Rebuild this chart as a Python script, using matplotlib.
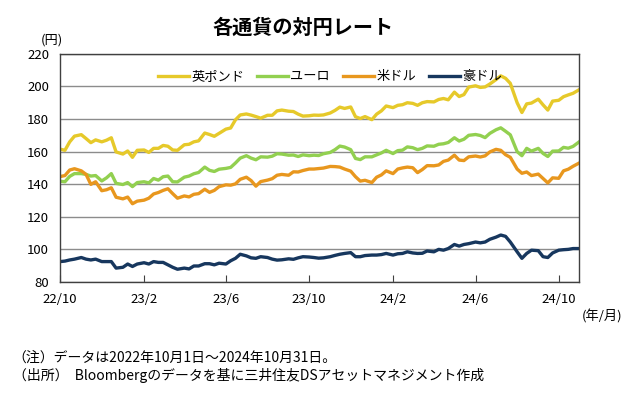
import pandas as pd
import matplotlib.pyplot as plt

plt.rcParams['font.family'] = ['Noto Sans CJK JP', 'DejaVu Sans']

# sample dates: 1st, 8th, 15th, 22nd of each month + last day
months = pd.date_range('2022-10-01', '2024-10-01', freq='MS')
dates = [m + pd.Timedelta(days=d) for m in months for d in (0, 7, 14, 21)]
dates.append(pd.Timestamp('2024-10-31'))

gbp = [161.5, 160.8, 166.0, 169.5,   # 22/10
       170.4, 168.0, 165.5, 167.2,
       166.0, 167.0, 168.5, 159.8,
       158.5, 160.4, 156.5, 160.8,   # 23/1
       161.0, 159.5, 162.0, 162.0,
       163.8, 163.3, 161.0, 160.8,
       164.2, 164.5, 166.0, 166.6,
       171.4, 170.5, 169.4, 171.2,
       173.8, 174.5, 179.5, 182.5,
       183.1, 182.4, 181.5, 180.5,
       182.3, 182.3, 185.0, 185.5,
       184.8, 184.6, 183.0, 181.8,
       182.0, 182.4, 182.3, 182.5,   # 23/10
       183.7, 185.3, 187.3, 186.5,
       187.4, 181.4, 180.3, 181.5,
       179.6, 183.0, 185.0, 188.0,   # 24/1
       187.0, 188.4, 188.8, 190.0,
       189.6, 188.4, 190.0, 190.7,
       190.5, 192.0, 192.6, 191.8,
       196.5, 193.8, 195.0, 199.6,
       200.4, 199.4, 199.7, 201.5,
       204.2, 206.5, 205.0, 201.9,
       190.0, 184.0, 189.3, 189.8,
       192.2, 188.7, 185.5, 191.0,
       191.5, 193.7, 194.8, 195.8,   # 24/10
       198.0]

eur = [141.8, 141.5, 144.8, 146.5,
       146.5, 146.0, 145.0, 145.3,
       142.0, 143.9, 146.5, 140.5,
       139.8, 141.0, 138.5, 141.0,
       141.5, 140.8, 143.5, 142.5,
       144.6, 145.0, 141.5, 141.4,
       144.3, 145.0, 146.4, 147.2,
       150.5, 148.5, 147.8, 149.2,
       149.7, 150.3, 153.0, 156.0,
       157.5, 156.0, 155.0, 156.8,
       156.6, 157.2, 158.7, 158.5,
       157.8, 157.9, 157.0, 158.0,
       157.5, 157.8, 157.6, 158.7,
       159.5, 161.2, 163.4, 162.8,
       161.2, 155.8, 155.1, 156.8,
       156.8, 158.0, 159.2, 160.8,
       158.8, 160.6, 160.9, 162.9,
       162.4, 161.2, 162.0, 163.5,
       163.3, 164.5, 164.8, 165.6,
       168.5, 166.5, 167.6, 170.0,
       170.5, 169.9, 168.6, 171.2,
       173.4, 174.6, 172.5, 170.3,
       160.0, 157.5, 162.0, 160.3,
       162.0, 158.9, 157.0, 160.3,
       160.4, 162.6, 162.1, 163.2,
       166.0]

usd = [144.7, 145.3, 148.7, 149.5,
       148.2, 146.0, 139.9, 141.5,
       136.0, 136.6, 137.8, 132.0,
       131.0, 132.1, 128.0, 129.6,
       130.2, 131.4, 134.0, 134.9,
       136.2, 137.2, 134.2, 131.4,
       132.8, 132.2, 133.8, 134.2,
       136.9, 135.0, 136.2, 138.5,
       139.6, 139.4, 140.2, 143.0,
       144.3, 142.2, 138.8, 141.6,
       142.5, 143.4, 145.5, 146.0,
       145.5, 147.6, 147.5, 148.4,
       149.3, 149.3, 149.6, 149.9,
       150.9, 150.8, 150.5, 149.3,
       148.0, 144.6, 141.9, 142.4,
       141.0, 144.3, 145.7, 148.2,
       146.5, 149.3, 150.0, 150.5,
       150.1, 147.1, 149.0, 151.4,
       151.3, 151.8, 154.0, 154.8,
       157.8, 154.8, 154.5, 156.8,
       157.3, 156.7, 157.4, 159.8,
       161.4, 160.8, 158.1, 156.5,
       149.3, 146.7, 147.5, 145.3,
       146.2, 143.5, 140.8, 143.9,
       143.6, 148.2, 149.2, 151.0,
       153.0]

aud = [92.5, 92.8, 93.5, 94.0,
       95.0, 94.0, 93.5, 94.0,
       92.5, 92.5, 92.5, 88.5,
       89.0, 91.0, 89.5, 91.0,
       91.8, 91.0, 92.5, 92.0,
       92.0, 90.5, 89.0, 87.8,
       88.5, 88.0, 89.8, 89.8,
       91.2, 91.2, 90.5, 91.5,
       91.0, 93.0, 94.5, 97.0,
       96.0, 94.8, 94.5, 95.5,
       95.0, 94.0, 93.4, 93.6,
       94.2, 93.9, 94.8, 95.5,
       95.3, 95.0, 94.6, 94.8,
       95.5, 96.3, 97.0, 97.5,
       98.0, 95.5, 95.5, 96.2,
       96.5, 96.5, 96.8, 97.5,
       96.5, 97.3, 97.5, 98.5,
       97.8, 97.5, 97.6, 99.0,
       98.5, 100.0, 99.5, 100.5,
       103.0, 102.0, 103.0, 103.5,
       104.5, 104.0, 104.5, 106.2,
       107.5, 108.8, 108.0, 104.5,
       98.5, 94.5, 97.5, 99.5,
       99.2, 95.5, 95.0, 97.8,
       99.5, 99.8, 100.0, 100.5,
       100.5]

series = [('英ポンド', gbp, '#E6C92A'),
          ('ユーロ', eur, '#92D050'),
          ('米ドル', usd, '#E8971E'),
          ('豪ドル', aud, '#17375E')]

tick_dates = pd.date_range('2022-10-01', '2024-10-01', freq='4MS')
tick_labels = ['22/10', '23/2', '23/6', '23/10', '24/2', '24/6', '24/10']

fig = plt.figure(figsize=(6.4, 3.96), dpi=100)
ax = fig.add_axes([0.094, 0.288, 0.811, 0.576])

for name, vals, col in series:
    ax.plot(dates, vals, color=col, lw=2.4, label=name)

ax.set_xlim(pd.Timestamp('2022-10-01'), pd.Timestamp('2024-10-31'))
ax.set_ylim(80, 220)
ax.set_yticks(range(80, 221, 20))
ax.set_xticks(tick_dates)
ax.set_xticklabels(tick_labels)
ax.tick_params(axis='x', direction='in', length=5, labelsize=9.5, pad=8, color='#404040')
ax.tick_params(axis='y', length=0, labelsize=9.5, pad=8)
ax.grid(axis='y', color='#8c8c8c', lw=1)
ax.set_axisbelow(True)
for s in ax.spines.values():
    s.set_color('#404040')
    s.set_linewidth(1)

ax.legend(loc='upper center', bbox_to_anchor=(0.52, 0.98), ncol=4, frameon=False,
          fontsize=9.5, handlelength=2.3, handletextpad=0.2, columnspacing=1.0)

fig.text(0.473, 0.93, '各通貨の対円レート', fontsize=14.5, fontweight='bold', ha='center', va='center')
fig.text(0.081, 0.9, '(円)', fontsize=9.5, ha='center', va='center')
fig.text(0.94, 0.202, '(年/月)', fontsize=9.5, ha='center', va='center')
fig.text(0.02, 0.096, '（注）データは2022年10月1日～2024年10月31日。', fontsize=10, va='center')
fig.text(0.02, 0.053, '（出所）  Bloombergのデータを基に三井住友DSアセットマネジメント作成', fontsize=10, va='center')

fig.savefig('out.png', dpi=100)
